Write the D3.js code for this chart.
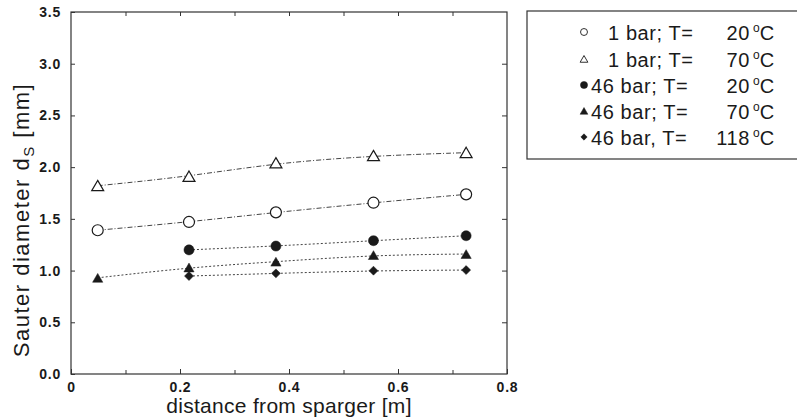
<!DOCTYPE html>
<html>
<head>
<meta charset="utf-8">
<script src="https://cdn.jsdelivr.net/npm/d3@7"></script>
<style>
  body { margin: 0; background: #fff; }
  svg { font-family: "Liberation Sans", Arial, sans-serif; }
</style>
</head>
<body>
<svg id="chart" width="797" height="420"></svg>
<script>
// distance from sparger [m]
var distance = [0.049, 0.2165, 0.376, 0.555, 0.725];
// Sauter diameter [mm], one list per run (null = no measurement)
var bar1T20 = [1.39, 1.47, 1.563, 1.656, 1.737];
var bar1T70 = [1.82, 1.91, 2.04, 2.11, 2.14];
var bar46T20 = [null, 1.20, 1.237, 1.289, 1.337];
var bar46T70 = [0.93, 1.03, 1.086, 1.15, 1.16];
var bar46T118 = [null, 0.947, 0.973, 0.999, 1.005];

var legendLabels = ["1 bar; T=", "1 bar; T=", "46 bar; T=", "46 bar; T=", "46 bar, T="];
var legendTemps = ["20", "70", "20", "70", "118"];
var xTicks = [0, 0.2, 0.4, 0.6, 0.8];
var yTicks = [0, 0.5, 1, 1.5, 2, 2.5, 3, 3.5];

var series = [
  {vals: bar1T20, sym: d3.symbolCircle, fill: false, dash: "5,2,1,2", size: 95, key: 38},
  {vals: bar1T70, sym: d3.symbolTriangle, fill: false, dash: "5,2,1,2", size: 62, key: 26},
  {vals: bar46T20, sym: d3.symbolCircle, fill: true, dash: "2,2", size: 80, key: 40},
  {vals: bar46T70, sym: d3.symbolTriangle, fill: true, dash: "2,2", size: 45, key: 26},
  {vals: bar46T118, sym: d3.symbolSquare, fill: true, dash: "2,2", size: 40, key: 20}
];

var svg = d3.select("#chart");
var plotL = 71, plotR = 507, plotT = 12, plotB = 374;
var ink = "#1a1a1a";

var x = d3.scaleLinear().domain([0, 0.8]).range([plotL, plotR]);
var y = d3.scaleLinear().domain([0, 3.5]).range([plotB, plotT]);

// frame
svg.append("rect")
  .attr("x", plotL).attr("y", plotT)
  .attr("width", plotR - plotL).attr("height", plotB - plotT)
  .attr("fill", "none").attr("stroke", "#333").attr("stroke-width", 1.2);

// ticks, inward on all sides
var bottomAxis = svg.append("g")
  .attr("transform", "translate(0," + plotB + ")")
  .call(d3.axisBottom(x).tickValues(xTicks)
    .tickFormat(function(d){ return d === 0 ? "0" : d3.format(".1f")(d); })
    .tickSizeInner(-5).tickSizeOuter(0).tickPadding(8));
bottomAxis.append("g").call(d3.axisBottom(x).tickValues([0.1, 0.3, 0.5, 0.7]).tickSize(-4).tickFormat(""));
svg.append("g").attr("transform", "translate(0," + plotT + ")")
  .call(d3.axisTop(x).tickValues(d3.range(0.1, 0.8, 0.1)).tickSize(-4).tickFormat(""));
svg.append("g").attr("transform", "translate(" + plotL + ",0)")
  .call(d3.axisLeft(y).tickValues(yTicks).tickFormat(d3.format(".1f"))
    .tickSizeInner(-4).tickSizeOuter(0).tickPadding(10));
svg.append("g").attr("transform", "translate(" + plotR + ",0)")
  .call(d3.axisRight(y).tickValues(yTicks.slice(1, -1)).tickSize(-5).tickFormat(""));

svg.selectAll(".domain").remove();
svg.selectAll(".tick line").attr("stroke", "#333");
svg.selectAll(".tick text")
  .attr("fill", ink).attr("font-size", 14).attr("font-weight", "bold")
  .attr("letter-spacing", 0.8)
  .attr("font-family", "Liberation Sans, Arial, sans-serif");

// axis titles
svg.append("text")
  .attr("x", (plotL + plotR) / 2).attr("y", 413)
  .attr("text-anchor", "middle").attr("font-size", 21).attr("letter-spacing", 0.3)
  .attr("fill", ink)
  .text("distance from sparger [m]");

var yt = svg.append("text")
  .attr("transform", "translate(29,220) rotate(-90)")
  .attr("text-anchor", "middle").attr("font-size", 22).attr("letter-spacing", 1.5)
  .attr("fill", ink);
yt.append("tspan").text("Sauter diameter  d");
yt.append("tspan").attr("font-size", 15).attr("dy", 5).text("S");
yt.append("tspan").attr("dy", -5).text(" [mm]");

// curves and markers
var line = d3.line()
  .x(function(d){ return x(d.d); })
  .y(function(d){ return y(d.v); })
  .curve(d3.curveBasis);

series.forEach(function(s) {
  var pts = distance.map(function(d, i){ return {d: d, v: s.vals[i]}; })
    .filter(function(p){ return p.v != null; });
  svg.append("path").datum(pts)
    .attr("d", line)
    .attr("fill", "none").attr("stroke", "#444").attr("stroke-width", 1)
    .attr("stroke-dasharray", s.dash);

  svg.selectAll(null).data(pts).enter().append("path")
    .attr("d", d3.symbol().type(s.sym).size(s.size))
    .attr("transform", function(p){
      var rot = s.sym === d3.symbolSquare ? " rotate(45)" : "";
      var dy = s.sym === d3.symbolTriangle ? 1.5 : 0;
      return "translate(" + x(p.d) + "," + (y(p.v) + dy) + ")" + rot;
    })
    .attr("fill", s.fill ? ink : "#fff")
    .attr("stroke", ink).attr("stroke-width", s.fill ? 0.5 : 1.2);
});

// legend (right border runs off the page, as in the original)
var lg = svg.append("g");
lg.append("rect")
  .attr("x", 527).attr("y", 11).attr("width", 290).attr("height", 148)
  .attr("fill", "#fff").attr("stroke", "#333").attr("stroke-width", 1.2);

var rowY = [33, 60, 86, 112, 138];
series.forEach(function(s, i) {
  var dy = s.sym === d3.symbolTriangle ? 0 : -1;
  lg.append("path")
    .attr("d", d3.symbol().type(s.sym).size(s.key))
    .attr("transform", "translate(584," + (rowY[i] + dy) + ")" + (s.sym === d3.symbolSquare ? " rotate(45)" : ""))
    .attr("fill", s.fill ? ink : "#fff")
    .attr("stroke", ink).attr("stroke-width", s.fill ? 0.5 : 0.9);

  lg.append("text")
    .attr("x", legendLabels[i].charAt(0) === "1" ? 608 : 591)
    .attr("y", rowY[i] + 7)
    .attr("font-size", 20).attr("letter-spacing", 0.6).attr("fill", ink)
    .text(legendLabels[i]);
  lg.append("text")
    .attr("x", 750).attr("y", rowY[i] + 7)
    .attr("text-anchor", "end").attr("font-size", 20).attr("letter-spacing", 0.6)
    .attr("fill", ink)
    .text(legendTemps[i]);
  var u = lg.append("text")
    .attr("x", 753).attr("y", rowY[i] + 7)
    .attr("font-size", 20).attr("fill", ink);
  u.append("tspan").attr("font-size", 12).attr("dy", -8).text("o");
  u.append("tspan").attr("dy", 8).text("C");
});
</script>
</body>
</html>
